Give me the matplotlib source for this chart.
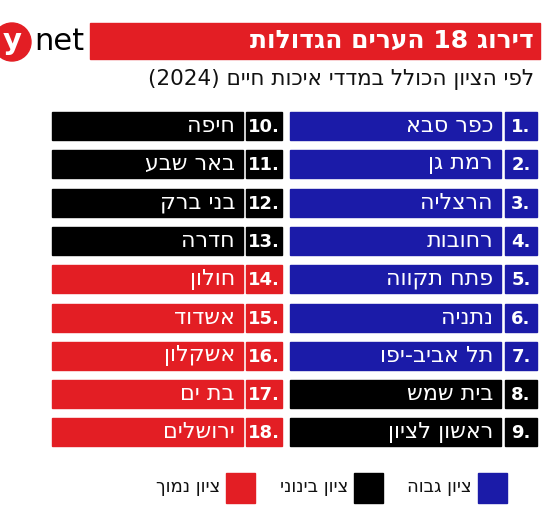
import re
import matplotlib
matplotlib.use("Agg")
import matplotlib.pyplot as plt
from matplotlib.patches import Rectangle, Circle

title = "דירוג 18 הערים הגדולות"
subtitle = "לפי הציון הכולל במדדי איכות חיים (2024)"
cities = ["כפר סבא", "רמת גן", "הרצליה", "רחובות", "פתח תקווה", "נתניה", "תל אביב-יפו",
          "בית שמש", "ראשון לציון", "חיפה", "באר שבע", "בני ברק", "חדרה", "חולון",
          "אשדוד", "אשקלון", "בת ים", "ירושלים"]
ranks = list(range(1, 19))
levels = ["high"] * 7 + ["mid"] * 6 + ["low"] * 5
legend_labels = {"high": "ציון גבוה", "mid": "ציון בינוני", "low": "ציון נמוך"}
colors = {"high": "#1b1ba8", "mid": "#000000", "low": "#e31e24"}

def vis(s):
    r = s[::-1]
    r = re.sub(r"\d+", lambda m: m.group(0)[::-1], r)
    return r.translate(str.maketrans("()", ")("))

FONT = ["DejaVu Sans Condensed", "DejaVu Sans"]
fig = plt.figure(figsize=(5.52, 5.19), dpi=100)
ax = fig.add_axes([0, 0, 1, 1])
ax.set_xlim(0, 552); ax.set_ylim(519, 0); ax.axis("off")

# header
ax.add_patch(Rectangle((90, 23), 450, 36, color="#e31e24"))
ax.text(534, 41, vis(title), ha="right", va="center", color="white", fontsize=18,
        fontweight="bold", family=FONT)
ax.add_patch(Circle((12, 42), 19, color="#e31e24"))
ax.text(12, 41, "y", ha="center", va="center", color="white", fontsize=21, fontweight="bold", family=FONT)
ax.text(34, 41, "net", ha="left", va="center", color="black", fontsize=22, family=FONT)
ax.text(534, 79, vis(subtitle), ha="right", va="center", color="#111", fontsize=15.5, family=FONT)

row_y0, row_dy, h = 126, 38.3, 28
for i, (c, r, lv) in enumerate(zip(cities, ranks, levels)):
    col = colors[lv]
    if i < 9:
        y = row_y0 + i * row_dy
        nx, nw, bx, bw = 505, 32, 290, 211
    else:
        y = row_y0 + (i - 9) * row_dy
        nx, nw, bx, bw = 246, 36, 52, 191
    ax.add_patch(Rectangle((nx, y - h / 2), nw, h, color=col))
    ax.add_patch(Rectangle((bx, y - h / 2), bw, h, color=col))
    ax.text(nx + nw / 2, y + 1, f"{r}.", ha="center", va="center", color="white",
            fontsize=13, fontweight="bold", family=FONT)
    ax.text(bx + bw - 8, y, vis(c), ha="right", va="center", color="white", fontsize=16, family=FONT)

for lv, sx in zip(["high", "mid", "low"], [478, 354, 226]):
    ax.add_patch(Rectangle((sx, 473), 29, 30, color=colors[lv]))
    ax.text(sx - 6, 487, vis(legend_labels[lv]), ha="right", va="center", color="#111",
            fontsize=13, family=FONT)

fig.savefig("out.png", dpi=100)
